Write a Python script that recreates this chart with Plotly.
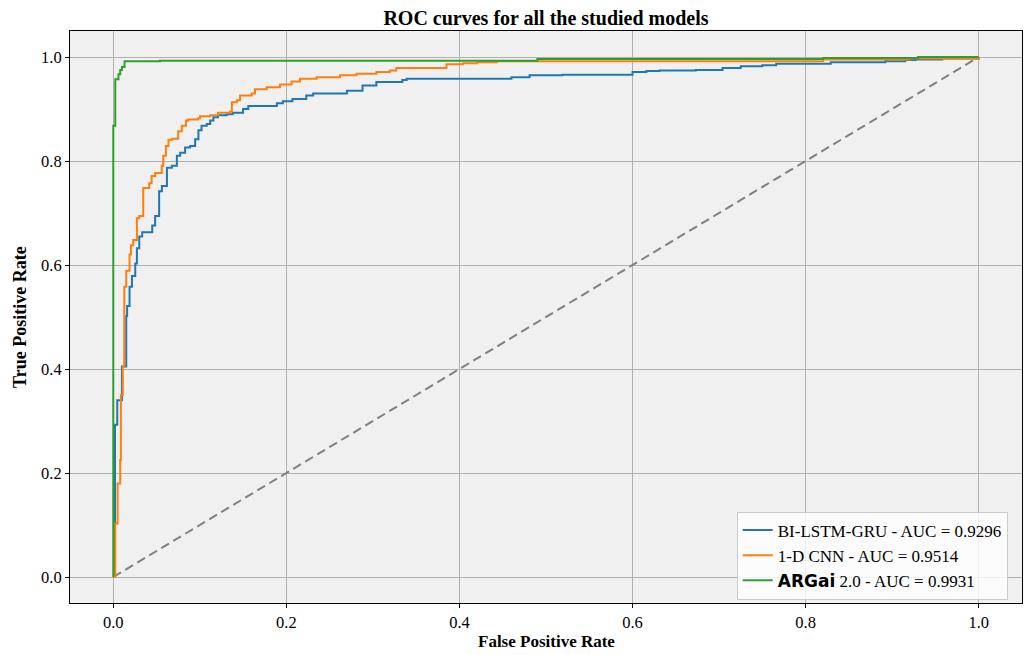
import plotly.graph_objects as go

# ---- data ----
bilstm_fpr = [0.0, 0.002, 0.0046, 0.0100, 0.015, 0.016, 0.0188, 0.0216, 0.0254, 0.0273, 0.030, 0.0334,
              0.045, 0.0484, 0.053, 0.0562, 0.062, 0.0677, 0.0735, 0.0773, 0.083, 0.0888, 0.0946,
              0.0984, 0.102, 0.108, 0.112, 0.1157, 0.121, 0.131, 0.138, 0.150, 0.156, 0.189, 0.196,
              0.207, 0.223, 0.231, 0.270, 0.288, 0.304, 0.334, 0.339, 0.460, 0.481, 0.519, 0.600,
              0.616, 0.631, 0.673, 0.704, 0.725, 0.750, 0.766, 0.829, 0.892, 0.915, 0.927, 0.958, 1.0]
bilstm_tpr = [0.0, 0.293, 0.340, 0.405, 0.502, 0.521, 0.558, 0.579, 0.603, 0.632, 0.655, 0.663,
              0.676, 0.694, 0.742, 0.752, 0.787, 0.791, 0.810, 0.816, 0.826, 0.829, 0.842,
              0.859, 0.868, 0.871, 0.878, 0.884, 0.888, 0.890, 0.893, 0.900, 0.906, 0.911, 0.915,
              0.919, 0.926, 0.930, 0.935, 0.945, 0.952, 0.956, 0.958, 0.961, 0.965, 0.966, 0.971,
              0.973, 0.974, 0.975, 0.979, 0.982, 0.984, 0.987, 0.990, 0.992, 0.994, 0.995, 0.997, 1.0]

cnn_fpr = [0.0, 0.0023, 0.005, 0.008, 0.0088, 0.011, 0.0127, 0.015, 0.0188, 0.0204, 0.023, 0.0273,
           0.030, 0.0346, 0.0415, 0.0443, 0.0484, 0.056, 0.0577, 0.0608, 0.0638, 0.0677, 0.075,
           0.0792, 0.084, 0.0865, 0.098, 0.1003, 0.112, 0.121, 0.135, 0.137, 0.1427, 0.1465, 0.160,
           0.1638, 0.1773, 0.1926, 0.206, 0.2157, 0.235, 0.262, 0.281, 0.304, 0.3195, 0.327,
           0.385, 0.404, 0.420, 0.443, 0.82, 0.92, 1.0]
cnn_tpr = [0.0, 0.103, 0.180, 0.225, 0.350, 0.405, 0.558, 0.589, 0.620, 0.638, 0.648, 0.690,
           0.694, 0.748, 0.757, 0.771, 0.777, 0.791, 0.810, 0.829, 0.841, 0.843, 0.857,
           0.868, 0.878, 0.880, 0.882, 0.886, 0.888, 0.893, 0.895, 0.913, 0.917, 0.926, 0.930,
           0.938, 0.942, 0.947, 0.953, 0.958, 0.961, 0.965, 0.968, 0.971, 0.974, 0.979,
           0.986, 0.988, 0.990, 0.992, 0.995, 0.997, 1.0]

argai_fpr = [0.0, 0.0, 0.0023, 0.006, 0.008, 0.010, 0.013, 0.054, 0.49, 0.82, 0.93, 1.0]
argai_tpr = [0.0, 0.868, 0.957, 0.967, 0.975, 0.981, 0.992, 0.993, 0.996, 0.998, 1.0, 1.0]

diag = [0.0, 1.0]

tick_vals = [0, 0.2, 0.4, 0.6, 0.8, 1.0]
tick_text = ["0.0", "0.2", "0.4", "0.6", "0.8", "1.0"]

names = ["BI-LSTM-GRU - AUC = 0.9296",
         "1-D CNN - AUC = 0.9514",
         "<span style='font-family:DejaVu Sans'><b>ARGai</b></span> 2.0 - AUC = 0.9931"]
colors = ["#1f77b4", "#ff7f0e", "#2ca02c"]

fig = go.Figure()
fig.add_trace(go.Scatter(x=diag, y=diag, mode="lines", showlegend=False,
                         line=dict(color="#808080", width=2, dash="9px,5px")))
for fx, ty, nm, c in [(bilstm_fpr, bilstm_tpr, names[0], colors[0]),
                      (cnn_fpr, cnn_tpr, names[1], colors[1]),
                      (argai_fpr, argai_tpr, names[2], colors[2])]:
    fig.add_trace(go.Scatter(x=fx, y=ty, mode="lines", name=nm,
                             line=dict(color=c, width=2, shape="hv")))

serif = "Liberation Serif, Times New Roman, serif"
axis_common = dict(range=[-0.05, 1.05], tickvals=tick_vals, ticktext=tick_text,
                   showgrid=True, gridcolor="#b0b0b0", gridwidth=1, zeroline=False,
                   showline=True, linecolor="black", linewidth=1, mirror=True,
                   ticks="outside", ticklen=4, tickcolor="black", automargin=False,
                   tickfont=dict(family=serif, size=16.5, color="black"))

W, H = 1024, 647
fig.update_layout(
    width=W, height=H,
    margin=dict(l=62, r=10, t=23, b=52),
    paper_bgcolor="white", plot_bgcolor="#f0f0f0",
    title=dict(text="ROC curves for all the studied models", xref="paper", x=0.5, xanchor="center",
               yref="container", y=1 - 10 / H, yanchor="middle",
               font=dict(family=serif, size=20, color="black", weight="bold")),
    xaxis=dict(**axis_common),
    yaxis=dict(**axis_common),
    legend=dict(x=0.985, y=0.006, xanchor="right", yanchor="bottom",
                bgcolor="rgba(255,255,255,0.8)", bordercolor="#cccccc", borderwidth=1,
                font=dict(family=serif, size=17, color="black"), tracegroupgap=0),
    annotations=[
        dict(text="False Positive Rate", xref="paper", yref="paper", x=0.5, y=-38 / 572,
             xanchor="center", yanchor="middle", showarrow=False,
             font=dict(family=serif, size=17, color="black", weight="bold")),
        dict(text="True Positive Rate", xref="paper", yref="paper", x=-50 / 952, y=0.5,
             xanchor="center", yanchor="middle", showarrow=False, textangle=-90,
             font=dict(family=serif, size=18, color="black", weight="bold")),
    ],
)

fig.write_html("out.html")
